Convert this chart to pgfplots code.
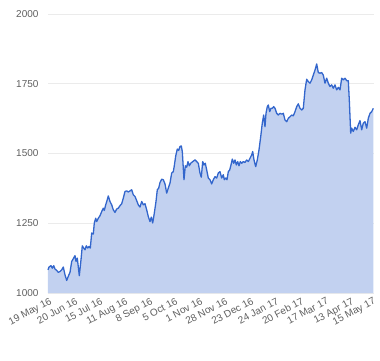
\documentclass[border=0pt]{standalone}
\usepackage{pgfplots}
\pgfplotsset{compat=1.18}
\usepackage{fontspec}
\setmainfont{Liberation Sans}
\definecolor{gline}{HTML}{3366CC}
\definecolor{gfill}{HTML}{C2D1F0}
\definecolor{ggrid}{HTML}{EBEBEB}
\definecolor{gtext}{HTML}{5F5F5F}
\begin{document}
\begin{tikzpicture}
\useasboundingbox (0,0) rectangle (380pt,360pt);
\begin{axis}[
  at={(48pt,67pt)}, anchor=south west,
  scale only axis, width=326pt, height=279pt,
  xmin=48, xmax=374, ymin=1000, ymax=2000,
  ytick={1000,1250,1500,1750,2000},
  xtick={48,74,99,124,149,174,199,224,250,275,300,325,350,372},
  xticklabels={19 May 16,20 Jun 16,15 Jul 16,11 Aug 16,8 Sep 16,5 Oct 16,1 Nov 16,28 Nov 16,23 Dec 16,24 Jan 17,20 Feb 17,17 Mar 17,13 Apr 17,15 May 17},
  xticklabel style={rotate=28, anchor=north east, font=\fontsize{10}{12}\selectfont, text=gtext, inner sep=1pt, yshift=-3pt},
  yticklabel style={font=\fontsize{10}{12}\selectfont, text=gtext, xshift=-6pt},
  /pgf/number format/assume math mode=true,
  /pgf/number format/1000 sep={},
  ymajorgrids, major grid style={ggrid, line width=0.8pt},
  axis line style={draw=none},
  tick style={draw=none},
  clip=false,
]
\addplot[draw=none, fill=gfill] coordinates {
(48,1083)(49,1093)(51,1098)(52.3,1089)(53.7,1098)(55,1086)(56.7,1081)(58.3,1074)(60,1077)(61.7,1083)(63.3,1093)(65,1065)(66.7,1045)(68.3,1060)(70,1074)(71.7,1113)(73.3,1123)(75,1134)(76,1113)(77.3,1125)(79.3,1062)(81,1119)(82.3,1169)(83.7,1161)(85,1155)(86.3,1169)(87.7,1161)(89,1167)(90.3,1161)(91.7,1215)(93.3,1211)(94.3,1251)(95.7,1268)(96.7,1256)(98.3,1268)(100,1277)(101.7,1292)(103.3,1304)(104.3,1296)(105.7,1316)(107,1331)(108.3,1348)(110,1328)(111.7,1316)(113.3,1298)(115,1289)(116.7,1301)(118.3,1304)(120,1313)(121.7,1320)(123.3,1340)(125,1364)(126.7,1366)(128.3,1362)(130,1366)(131.7,1370)(133.3,1352)(135,1346)(136.7,1331)(138.3,1316)(140,1308)(141.7,1328)(143.3,1316)(145,1320)(146.7,1298)(148.3,1274)(150,1256)(151.3,1272)(152.7,1251)(154.3,1286)(156,1328)(157.3,1370)(158.7,1376)(160,1396)(161.7,1408)(163.3,1406)(165,1391)(166.7,1358)(168.3,1376)(170,1394)(171.7,1430)(173.3,1435)(174.3,1456)(175.7,1491)(177.3,1516)(178.7,1511)(180,1525)(181.3,1527)(182.3,1507)(184,1406)(185.3,1456)(186.7,1451)(188,1471)(189.3,1456)(190.7,1465)(192.7,1471)(195,1477)(196.7,1471)(198.3,1465)(200,1430)(201.3,1415)(202.7,1471)(204,1459)(205.3,1465)(206.7,1441)(208.3,1412)(210,1406)(211.7,1391)(213.3,1406)(215,1417)(216.7,1412)(218.3,1430)(220,1435)(221.7,1412)(223.3,1424)(224.3,1406)(225.7,1412)(227,1406)(228.3,1435)(229.7,1441)(231,1459)(232.3,1480)(233.7,1465)(235,1477)(236.3,1459)(237.7,1471)(239,1456)(240.3,1471)(241.7,1465)(243.3,1471)(245,1468)(246.7,1477)(248.3,1471)(250,1483)(251.7,1495)(252.7,1507)(254,1477)(255.7,1453)(257.3,1477)(259,1513)(260.7,1560)(262.3,1609)(263.7,1638)(265,1596)(266,1644)(267.3,1668)(268.3,1674)(269.7,1650)(271,1662)(272.3,1662)(273.7,1668)(275,1662)(276.7,1644)(278.3,1638)(280,1644)(281.7,1641)(283.3,1644)(285,1620)(286.7,1614)(288.3,1626)(290,1632)(291.7,1638)(293.3,1635)(295,1650)(296.7,1668)(298.3,1678)(300,1662)(301.7,1656)(303.3,1662)(305,1728)(306.7,1766)(308.3,1758)(310,1752)(311.7,1764)(313.3,1781)(315,1799)(316.7,1821)(318.3,1790)(320,1788)(321.7,1790)(323.3,1781)(325,1752)(326.7,1770)(328.3,1752)(330,1740)(331.7,1746)(333.3,1734)(335,1746)(336.7,1728)(338.3,1737)(340,1728)(341.7,1770)(343.3,1764)(345,1770)(346.7,1761)(348.3,1761)(349.3,1692)(350.7,1573)(351.7,1591)(353.3,1579)(355,1594)(356.7,1585)(358.3,1603)(360,1618)(361.7,1585)(363.3,1609)(365,1614)(366.7,1591)(368.3,1626)(370,1644)(371.7,1650)(373.3,1662)
} \closedcycle;
\addplot[gline, line width=1.3pt, line join=round] coordinates {
(48,1083)(49,1093)(51,1098)(52.3,1089)(53.7,1098)(55,1086)(56.7,1081)(58.3,1074)(60,1077)(61.7,1083)(63.3,1093)(65,1065)(66.7,1045)(68.3,1060)(70,1074)(71.7,1113)(73.3,1123)(75,1134)(76,1113)(77.3,1125)(79.3,1062)(81,1119)(82.3,1169)(83.7,1161)(85,1155)(86.3,1169)(87.7,1161)(89,1167)(90.3,1161)(91.7,1215)(93.3,1211)(94.3,1251)(95.7,1268)(96.7,1256)(98.3,1268)(100,1277)(101.7,1292)(103.3,1304)(104.3,1296)(105.7,1316)(107,1331)(108.3,1348)(110,1328)(111.7,1316)(113.3,1298)(115,1289)(116.7,1301)(118.3,1304)(120,1313)(121.7,1320)(123.3,1340)(125,1364)(126.7,1366)(128.3,1362)(130,1366)(131.7,1370)(133.3,1352)(135,1346)(136.7,1331)(138.3,1316)(140,1308)(141.7,1328)(143.3,1316)(145,1320)(146.7,1298)(148.3,1274)(150,1256)(151.3,1272)(152.7,1251)(154.3,1286)(156,1328)(157.3,1370)(158.7,1376)(160,1396)(161.7,1408)(163.3,1406)(165,1391)(166.7,1358)(168.3,1376)(170,1394)(171.7,1430)(173.3,1435)(174.3,1456)(175.7,1491)(177.3,1516)(178.7,1511)(180,1525)(181.3,1527)(182.3,1507)(184,1406)(185.3,1456)(186.7,1451)(188,1471)(189.3,1456)(190.7,1465)(192.7,1471)(195,1477)(196.7,1471)(198.3,1465)(200,1430)(201.3,1415)(202.7,1471)(204,1459)(205.3,1465)(206.7,1441)(208.3,1412)(210,1406)(211.7,1391)(213.3,1406)(215,1417)(216.7,1412)(218.3,1430)(220,1435)(221.7,1412)(223.3,1424)(224.3,1406)(225.7,1412)(227,1406)(228.3,1435)(229.7,1441)(231,1459)(232.3,1480)(233.7,1465)(235,1477)(236.3,1459)(237.7,1471)(239,1456)(240.3,1471)(241.7,1465)(243.3,1471)(245,1468)(246.7,1477)(248.3,1471)(250,1483)(251.7,1495)(252.7,1507)(254,1477)(255.7,1453)(257.3,1477)(259,1513)(260.7,1560)(262.3,1609)(263.7,1638)(265,1596)(266,1644)(267.3,1668)(268.3,1674)(269.7,1650)(271,1662)(272.3,1662)(273.7,1668)(275,1662)(276.7,1644)(278.3,1638)(280,1644)(281.7,1641)(283.3,1644)(285,1620)(286.7,1614)(288.3,1626)(290,1632)(291.7,1638)(293.3,1635)(295,1650)(296.7,1668)(298.3,1678)(300,1662)(301.7,1656)(303.3,1662)(305,1728)(306.7,1766)(308.3,1758)(310,1752)(311.7,1764)(313.3,1781)(315,1799)(316.7,1821)(318.3,1790)(320,1788)(321.7,1790)(323.3,1781)(325,1752)(326.7,1770)(328.3,1752)(330,1740)(331.7,1746)(333.3,1734)(335,1746)(336.7,1728)(338.3,1737)(340,1728)(341.7,1770)(343.3,1764)(345,1770)(346.7,1761)(348.3,1761)(349.3,1692)(350.7,1573)(351.7,1591)(353.3,1579)(355,1594)(356.7,1585)(358.3,1603)(360,1618)(361.7,1585)(363.3,1609)(365,1614)(366.7,1591)(368.3,1626)(370,1644)(371.7,1650)(373.3,1662)
};
\end{axis}
\end{tikzpicture}
\end{document}
